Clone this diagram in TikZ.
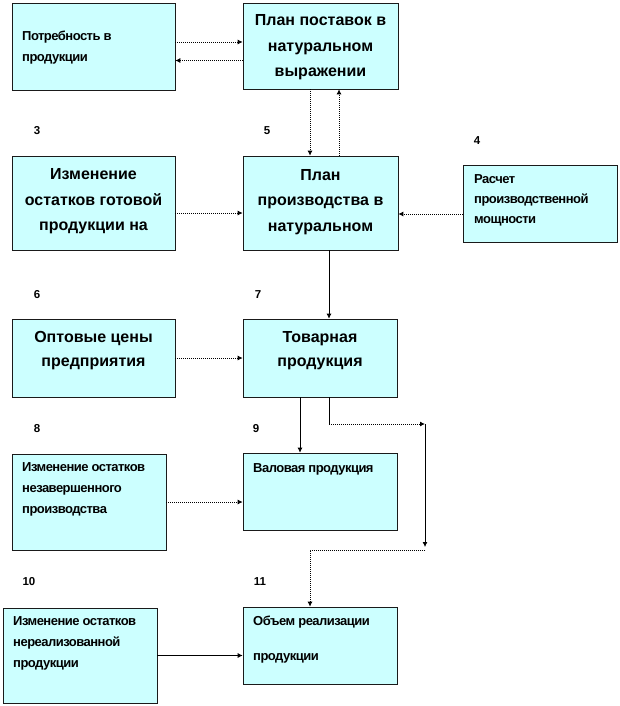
\documentclass[tikz,border=0pt]{standalone}
\usepackage{fontspec}
\setmainfont{Liberation Sans}
\usetikzlibrary{arrows.meta}
\definecolor{boxfill}{HTML}{CCFFFF}
\definecolor{boxline}{HTML}{1A1A1A}
\newcommand\smallfnt[1]{\bfseries\fontsize{13}{#1}\selectfont\addfontfeature{LetterSpace=-4}}
\begin{document}
\begin{tikzpicture}[x=1pt,y=-1pt,
  box/.style={draw=boxline,line width=0.6pt,fill=boxfill,inner sep=0pt,minimum width=#1},
  box/.default=155pt,
  bigtext/.style={inner sep=0pt,align=center,font=\bfseries\fontsize{16}{25.5}\selectfont},
  smalltext/.style={inner sep=0pt,align=left,anchor=west,font=\smallfnt{21}},
  numlabel/.style={inner sep=0pt,font=\bfseries\fontsize{11.5}{12}\selectfont},
  dotline/.style={line width=0.9pt,dash pattern=on 1pt off 1pt},
  solidline/.style={line width=0.8pt},
  tip/.style={-{Latex[length=5pt,width=5pt]}}
]
\useasboundingbox (0,0) rectangle (620,706);
% boxes
\node[box=163pt,minimum height=87pt] (b1) at (93.5,46.5) {};
\node[box=155pt,minimum height=86pt] (b2) at (320.5,46) {};
\node[box=163pt,minimum height=94pt] (b3) at (93.5,203) {};
\node[box=155pt,minimum height=94pt] (b5) at (320.5,203) {};
\node[box=154pt,minimum height=77pt] (b4) at (540,203.5) {};
\node[box=163pt,minimum height=78pt] (b6) at (93.5,358) {};
\node[box=154pt,minimum height=78pt] (b7) at (320,358) {};
\node[box=154pt,minimum height=96pt] (b8) at (89,502) {};
\node[box=154pt,minimum height=77pt] (b9) at (320,491.5) {};
\node[box=154pt,minimum height=95pt] (b10) at (80,655.5) {};
\node[box=154pt,minimum height=77pt] (b11) at (320,645.5) {};
% texts
\node[smalltext] (t1) at (22,47.5) {Потребность в\\продукции};
\node[bigtext] (t2) at (320.5,47.5) {План поставок в\\натуральном\\выражении};
\node[bigtext] (t3) at (93.5,201.5) {Изменение\\остатков готовой\\продукции на};
\node[bigtext] (t5) at (320.5,202) {План\\производства в\\натуральном};
\node[smalltext,font=\smallfnt{20}] (t4) at (474,200.7) {Расчет\\производственной\\мощности};
\node[bigtext,font=\bfseries\fontsize{16}{24}\selectfont] (t6) at (93.5,351) {Оптовые цены\\предприятия};
\node[bigtext,font=\bfseries\fontsize{16}{24}\selectfont] (t7) at (320,351) {Товарная\\продукция};
\node[smalltext] (t8) at (22,489.5) {Изменение остатков\\незавершенного\\производства};
\node[smalltext] (t9) at (253,469) {Валовая продукция};
\node[smalltext] (t10) at (13,643) {Изменение остатков\\нереализованной\\продукции};
\node[smalltext,font=\smallfnt{35}] (t11) at (253,639.5) {Объем реализации\\продукции};
% numbers
\node[numlabel] (n3) at (37,131) {3};
\node[numlabel] (n5) at (267,131) {5};
\node[numlabel] (n4) at (477,141) {4};
\node[numlabel] (n6) at (37,295) {6};
\node[numlabel] (n7) at (258,295) {7};
\node[numlabel] (n8) at (37,429) {8};
\node[numlabel] (n9) at (256,429) {9};
\node[numlabel] (n10) at (29,582) {10};
\node[numlabel] (n11) at (260,582) {11};
% connectors
\draw[dotline,tip] ([yshift=4.5pt]b1.east) -- ([yshift=4.5pt]b1.east -| b2.west);
\draw[dotline,tip] ([yshift=-14.5pt]b2.west) -- ([yshift=-14.5pt]b2.west -| b1.east);
\draw[dotline,tip] ([xshift=-10.5pt]b2.south) -- ([xshift=-10.5pt]b2.south |- b5.north);
\draw[dotline,tip] ([xshift=18.5pt]b5.north) -- ([xshift=18.5pt]b5.north |- b2.south);
\draw[dotline,tip] ([yshift=-10pt]b3.east) -- ([yshift=-10pt]b3.east -| b5.west);
\draw[dotline,tip] ([yshift=-10.5pt]b4.west) -- ([yshift=-10.5pt]b4.west -| b5.east);
\draw[solidline,tip] ([xshift=8.5pt]b5.south) -- ([xshift=8.5pt]b5.south |- b7.north);
\draw[dotline,tip] (b6.east) -- (b6.east -| b7.west);
\draw[solidline,tip] ([xshift=-20pt]b7.south) -- ([xshift=-20pt]b7.south |- b9.north);
\coordinate (j1) at (425,424);
\coordinate (j2) at (425,547);
\coordinate (j3) at (425,550);
\coordinate (j4) at (310,550);
\draw[solidline] ([xshift=9pt]b7.south) -- ([xshift=9pt]b7.south |- j1);
\draw[dotline,tip] ([xshift=9pt]b7.south |- j1) -- (j1);
\draw[solidline,tip] (j1) -- (j2);
\draw[dotline,tip] (j3) -- (j4) -- (j4 |- b11.north);
\draw[dotline,tip] (b8.east) -- (b8.east -| b9.west);
\draw[solidline,tip] (b10.east) -- (b10.east -| b11.west);
\end{tikzpicture}
\end{document}
